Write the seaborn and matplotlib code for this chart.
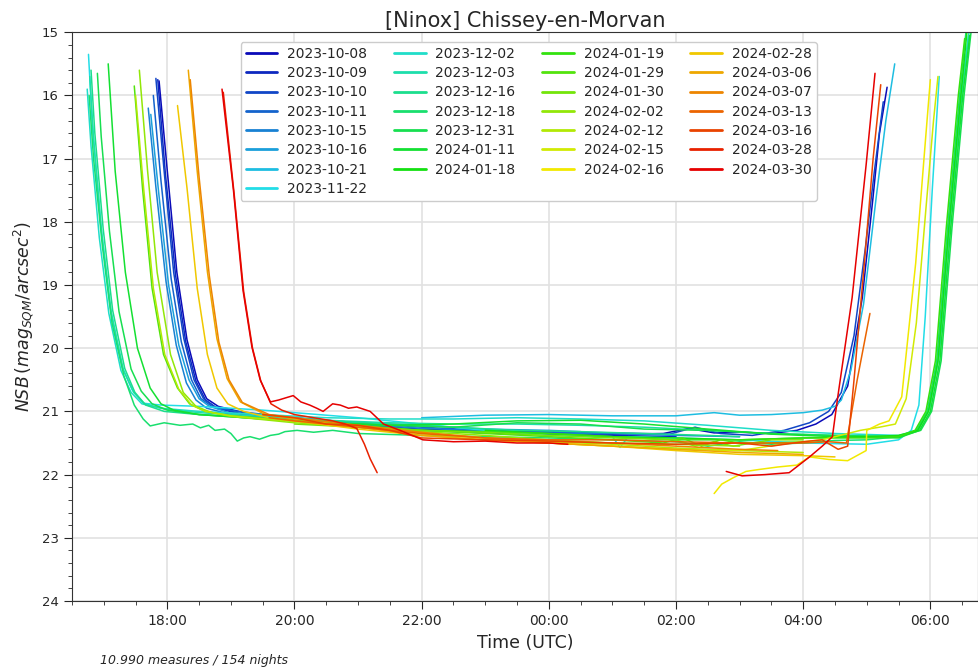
import numpy as np
import pandas as pd
import matplotlib
matplotlib.use('Agg')
import matplotlib.pyplot as plt
import seaborn as sns
from matplotlib.colors import LinearSegmentedColormap
from matplotlib.ticker import MultipleLocator, FuncFormatter
from matplotlib.lines import Line2D

nan = np.nan

nights = ['2023-10-08', '2023-10-09', '2023-10-10', '2023-10-11', '2023-10-15',
          '2023-10-16', '2023-10-21', '2023-11-22', '2023-12-02', '2023-12-03',
          '2023-12-16', '2023-12-18', '2023-12-31', '2024-01-11', '2024-01-18',
          '2024-01-19', '2024-01-29', '2024-01-30', '2024-02-02', '2024-02-12',
          '2024-02-15', '2024-02-16', '2024-02-28', '2024-03-06', '2024-03-07',
          '2024-03-13', '2024-03-16', '2024-03-28', '2024-03-30']

# time in hours UTC (after midnight = 24 + h), NSB in mag/arcsec2
t_1008 = [17.87, 18.0, 18.15, 18.31, 18.47, 18.62, 18.8, 19.2, 20.0, 21.0, 22.0, 23.0, 24.0, 25.0, 25.8, 26.2, 26.6, 27.0, 27.5, 27.9, 28.2, 28.45, 28.7, 28.93, 29.1, 29.2, 29.32]
m_1008 = [15.77, 17.2, 18.8, 19.87, 20.5, 20.8, 20.92, 21.02, 21.12, 21.2, 21.28, 21.32, 21.35, 21.36, 21.35, 21.27, 21.34, 21.33, 21.35, 21.3, 21.2, 21.05, 20.6, 19.2, 17.6, 16.6, 15.87]
t_1009 = [17.85, 17.97, 18.13, 18.29, 18.45, 18.6, 18.78, 19.2, 20.0, 21.0, 22.0, 23.0, 24.0, 25.0, 26.0]
m_1009 = [15.75, 17.25, 18.85, 19.9, 20.52, 20.82, 20.95, 21.05, 21.15, 21.22, 21.3, 21.34, 21.37, 21.38, 21.4]
t_1010 = [17.82, 17.95, 18.1, 18.26, 18.42, 18.57, 18.75, 19.2, 20.0, 21.0, 22.0, 23.0, 24.0, 25.0, 25.9, 26.3, 26.7, 27.2, 27.7, 28.1, 28.4, 28.6, 28.8, 28.98, 29.12, 29.26]
m_1010 = [15.73, 17.2, 18.8, 19.85, 20.5, 20.8, 20.93, 21.05, 21.14, 21.22, 21.3, 21.33, 21.32, 21.34, 21.36, 21.25, 21.35, 21.38, 21.3, 21.18, 21.0, 20.7, 19.8, 18.4, 17.2, 16.1]
t_1011 = [17.78, 17.9, 18.06, 18.22, 18.38, 18.53, 18.7, 19.1, 20.0, 21.0, 22.0, 23.0, 24.0, 24.8]
m_1011 = [16.0, 17.35, 18.9, 19.9, 20.5, 20.8, 20.92, 21.0, 21.1, 21.18, 21.25, 21.3, 21.33, 21.35]
t_1015 = [17.7, 17.82, 17.98, 18.14, 18.3, 18.45, 18.62, 19.0, 20.0, 21.0, 22.0, 23.0, 24.0, 25.0, 26.0, 27.0]
m_1015 = [16.2, 17.45, 18.95, 19.95, 20.55, 20.82, 20.95, 21.05, 21.15, 21.2, 21.27, 21.3, 21.35, 21.35, 21.38, 21.4]
t_1016 = [17.74, 17.86, 18.02, 18.18, 18.34, 18.5, 18.66, 19.0, 20.0, 21.0, 22.0, 23.0, 24.0, 24.5]
m_1016 = [16.3, 17.5, 19.0, 19.95, 20.5, 20.8, 20.92, 21.03, 21.1, 21.18, 21.22, 21.28, 21.3, 21.32]
t_1021 = [22.0, 23.0, 24.0, 25.0, 26.0, 26.6, 27.0, 27.5, 28.0, 28.3, 28.5, 28.6, 28.75, 28.95, 29.15, 29.3, 29.44]
m_1021 = [21.1, 21.06, 21.05, 21.07, 21.07, 21.02, 21.06, 21.05, 21.02, 20.98, 20.92, 20.82, 20.35, 19.3, 17.6, 16.4, 15.5]
t_1122 = [16.76, 16.82, 16.95, 17.1, 17.29, 17.45, 17.62, 17.9, 18.5, 19.0, 19.5, 20.0, 21.0, 22.0, 23.0, 24.0, 25.0, 25.12, 25.25, 26.0, 27.0, 28.0, 29.0, 29.5, 29.7, 29.82, 29.92, 30.03, 30.14]
m_1122 = [15.35, 16.44, 18.02, 19.35, 20.3, 20.66, 20.87, 20.9, 20.92, 20.95, 20.98, 21.02, 21.1, 21.2, 21.3, 21.38, 21.4, 21.57, 21.4, 21.42, 21.45, 21.5, 21.52, 21.45, 21.3, 20.9, 19.5, 17.5, 15.7]
t_1202 = [16.74, 16.8, 16.93, 17.08, 17.27, 17.43, 17.6, 17.9, 18.5, 19.5, 20.5, 21.5, 22.5, 23.5, 24.5, 25.5, 26.5, 27.5, 28.5, 29.5, 29.8, 29.97, 30.12, 30.29, 30.48, 30.6]
m_1202 = [15.9, 16.8, 18.25, 19.45, 20.35, 20.7, 20.88, 20.95, 21.0, 21.05, 21.1, 21.12, 21.12, 21.1, 21.12, 21.15, 21.22, 21.3, 21.35, 21.38, 21.3, 21.0, 20.2, 18.1, 16.0, 15.05]
t_1203 = [16.78, 16.84, 16.97, 17.12, 17.31, 17.47, 17.64, 17.95, 18.5, 19.5, 20.5, 21.5, 22.5, 23.5, 24.5, 25.5, 26.5, 27.5, 28.5, 29.5, 29.82, 29.99, 30.14, 30.31, 30.5, 30.62]
m_1203 = [15.7, 16.7, 18.2, 19.45, 20.35, 20.7, 20.88, 20.96, 21.02, 21.08, 21.14, 21.18, 21.2, 21.2, 21.22, 21.25, 21.3, 21.35, 21.38, 21.4, 21.28, 20.95, 20.1, 18.0, 15.95, 14.9]
t_1216 = [16.8, 16.86, 16.99, 17.14, 17.33, 17.49, 17.66, 17.95, 18.5, 19.5, 20.5, 21.5, 22.5, 23.5, 24.5, 25.5, 26.5, 27.0]
m_1216 = [15.6, 16.6, 18.1, 19.4, 20.32, 20.7, 20.9, 21.0, 21.05, 21.1, 21.15, 21.2, 21.25, 21.3, 21.32, 21.35, 21.38, 21.4]
t_1218 = [16.77, 16.84, 16.98, 17.13, 17.32, 17.48, 17.62, 17.73, 17.95, 18.2, 18.4, 18.52, 18.65, 18.75, 18.9, 19.0, 19.1, 19.2, 19.3, 19.45, 19.62, 19.75, 19.85, 20.04, 20.3, 20.6, 21.0, 22.0, 23.0, 24.0, 25.0, 26.0, 26.5, 27.0, 27.5, 28.0, 28.5, 29.0, 29.5, 29.78, 29.95, 30.1, 30.27, 30.46, 30.56]
m_1218 = [16.0, 17.0, 18.4, 19.6, 20.45, 20.9, 21.12, 21.23, 21.18, 21.22, 21.2, 21.26, 21.22, 21.3, 21.28, 21.35, 21.47, 21.42, 21.4, 21.44, 21.38, 21.36, 21.32, 21.3, 21.33, 21.3, 21.35, 21.38, 21.4, 21.42, 21.45, 21.48, 21.55, 21.48, 21.52, 21.5, 21.46, 21.45, 21.4, 21.3, 21.0, 20.2, 18.1, 16.0, 15.0]
t_1231 = [16.9, 16.96, 17.09, 17.24, 17.43, 17.59, 17.76, 18.0, 18.5, 19.5, 20.5, 21.5, 22.5, 23.5, 24.5, 25.5, 26.5, 27.5, 28.5, 29.5, 29.85, 30.02, 30.17, 30.34, 30.53, 30.64]
m_1231 = [15.65, 16.65, 18.15, 19.42, 20.33, 20.68, 20.88, 20.98, 21.05, 21.12, 21.18, 21.22, 21.25, 21.18, 21.2, 21.28, 21.3, 21.35, 21.38, 21.4, 21.3, 21.0, 20.2, 18.1, 16.0, 15.0]
t_0111 = [17.07, 17.18, 17.34, 17.53, 17.73, 17.9, 18.1, 18.5, 19.5, 20.5, 21.5, 22.5, 23.5, 24.5, 25.5, 26.5, 27.5, 28.5, 29.5, 29.83, 30.0, 30.15, 30.32, 30.51, 30.62]
m_0111 = [15.5, 17.2, 18.8, 20.0, 20.63, 20.88, 20.98, 21.05, 21.12, 21.18, 21.22, 21.2, 21.15, 21.14, 21.2, 21.28, 21.36, 21.4, 21.42, 21.3, 21.0, 20.2, 18.1, 16.0, 15.05]
t_0118 = [23.0, 24.0, 25.0, 26.0, 27.0, 28.0, 29.0, 29.5, 29.8, 29.97, 30.12, 30.29, 30.48, 30.58]
m_0118 = [21.3, 21.35, 21.4, 21.42, 21.45, 21.42, 21.4, 21.38, 21.3, 21.0, 20.2, 18.1, 16.0, 14.95]
t_0119 = [21.0, 22.0, 23.0, 24.0, 25.0, 26.0, 27.0, 28.0, 29.0, 29.5, 29.76, 29.93, 30.08, 30.25, 30.44, 30.54]
m_0119 = [21.25, 21.3, 21.32, 21.35, 21.4, 21.45, 21.45, 21.42, 21.42, 21.4, 21.3, 21.0, 20.2, 18.1, 16.0, 15.1]
t_0129 = [17.48, 17.61, 17.76, 17.94, 18.16, 18.35, 18.6, 19.0, 20.0, 21.0, 22.0, 23.0, 24.0, 25.0, 25.8, 26.1, 26.4, 26.7, 27.0, 27.5, 28.0]
m_0129 = [15.85, 17.47, 19.05, 20.1, 20.63, 20.88, 21.0, 21.07, 21.15, 21.22, 21.3, 21.35, 21.4, 21.45, 21.5, 21.42, 21.55, 21.45, 21.5, 21.5, 21.48]
t_0130 = [20.0, 21.0, 22.0, 23.0, 24.0, 25.0, 26.0, 26.3, 26.6, 26.9, 27.2, 27.5, 28.0]
m_0130 = [21.2, 21.25, 21.3, 21.33, 21.38, 21.42, 21.45, 21.55, 21.48, 21.55, 21.5, 21.45, 21.45]
t_0202 = [17.56, 17.69, 17.84, 18.05, 18.25, 18.45, 18.7, 19.0, 20.0, 21.0, 22.0, 23.0, 24.0, 25.0, 26.0, 27.0]
m_0202 = [15.6, 17.2, 18.8, 20.1, 20.7, 20.92, 21.02, 21.08, 21.18, 21.25, 21.32, 21.38, 21.45, 21.5, 21.52, 21.55]
t_0212 = [17.5, 17.63, 17.78, 17.96, 18.18, 18.38, 18.6, 19.0, 20.0, 21.0, 22.0, 23.0, 24.0, 25.0, 26.0, 27.0, 28.0]
m_0212 = [16.0, 17.5, 19.05, 20.1, 20.65, 20.9, 21.0, 21.07, 21.16, 21.25, 21.35, 21.42, 21.48, 21.52, 21.58, 21.62, 21.65]
t_0215 = [22.0, 23.0, 24.0, 25.0, 26.0, 27.0, 27.8, 28.3, 28.9, 29.2, 29.45, 29.62, 29.78, 29.93, 30.05, 30.12]
m_0215 = [21.35, 21.42, 21.5, 21.55, 21.6, 21.62, 21.5, 21.45, 21.3, 21.25, 21.2, 20.8, 19.6, 17.8, 16.4, 15.7]
t_0216 = [26.6, 26.72, 26.9, 27.1, 27.3, 27.6, 27.9, 28.1, 28.4, 28.7, 28.99, 29.0, 29.2, 29.35, 29.55, 29.77, 29.9, 30.0]
m_0216 = [22.3, 22.15, 22.05, 21.95, 21.92, 21.88, 21.85, 21.72, 21.76, 21.78, 21.62, 21.3, 21.2, 21.15, 20.77, 18.65, 17.0, 15.75]
t_0228 = [18.16, 18.31, 18.47, 18.63, 18.78, 18.95, 19.2, 19.6, 20.0, 21.0, 22.0, 23.0, 24.0, 25.0, 26.0, 27.0, 28.0, 28.5]
m_0228 = [16.16, 17.47, 19.05, 20.1, 20.63, 20.88, 21.0, 21.1, 21.15, 21.28, 21.38, 21.45, 21.5, 21.55, 21.62, 21.68, 21.7, 21.72]
t_0306 = [18.33, 18.47, 18.63, 18.78, 18.94, 19.15, 19.54, 20.0, 21.0, 22.0, 23.0, 24.0, 25.0, 26.0, 27.0, 28.0]
m_0306 = [15.6, 17.2, 18.79, 19.85, 20.48, 20.85, 21.05, 21.12, 21.25, 21.38, 21.45, 21.5, 21.55, 21.6, 21.65, 21.68]
t_0307 = [18.36, 18.5, 18.66, 18.81, 18.97, 19.18, 19.6, 20.0, 21.0, 22.0, 23.0, 24.0, 25.0, 26.0, 27.0, 27.6]
m_0307 = [15.75, 17.3, 18.85, 19.9, 20.5, 20.86, 21.05, 21.1, 21.22, 21.33, 21.42, 21.47, 21.5, 21.55, 21.6, 21.62]
t_0313 = [19.6, 20.0, 21.0, 22.0, 23.0, 24.0, 25.0, 26.0, 27.0, 28.0, 28.4, 28.68, 28.85, 29.05]
m_0313 = [21.1, 21.15, 21.25, 21.35, 21.42, 21.45, 21.45, 21.48, 21.5, 21.5, 21.48, 21.5, 20.5, 19.45]
t_0316 = [19.5, 20.0, 20.5, 21.0, 21.5, 22.0, 23.0, 24.0, 25.0, 26.0, 27.0, 27.5, 28.0, 28.3, 28.55, 28.7, 28.8, 28.95, 29.1, 29.22]
m_0316 = [21.05, 21.1, 21.2, 21.22, 21.3, 21.42, 21.45, 21.47, 21.5, 21.52, 21.5, 21.55, 21.48, 21.45, 21.6, 21.55, 20.5, 18.8, 17.0, 15.83]
t_0328 = [18.88, 19.05, 19.2, 19.34, 19.47, 19.63, 19.8, 20.0, 20.3, 20.6, 20.8, 20.98, 21.1, 21.19, 21.3]
m_0328 = [15.95, 17.55, 19.1, 20.0, 20.52, 20.88, 20.98, 21.05, 21.1, 21.15, 21.2, 21.27, 21.52, 21.75, 21.97]
t_0330 = [18.86, 19.04, 19.19, 19.33, 19.46, 19.62, 19.75, 19.88, 19.98, 20.1, 20.24, 20.35, 20.45, 20.6, 20.72, 20.85, 20.98, 21.19, 21.4, 21.66, 22.02, 22.5, 23.0, 23.5, 24.0, 24.3, nan,
          26.79, 27.04, 27.4, 27.78, 28.1, 28.3, 28.46, 28.54, 28.77, 28.99, 29.13]
m_0330 = [15.9, 17.5, 19.08, 19.98, 20.5, 20.85, 20.82, 20.78, 20.75, 20.85, 20.9, 20.95, 21.0, 20.88, 20.9, 20.95, 20.93, 21.0, 21.2, 21.3, 21.45, 21.48, 21.47, 21.5, 21.5, 21.52, nan,
          21.95, 22.02, 22.0, 21.97, 21.72, 21.55, 21.4, 20.8, 19.2, 17.1, 15.65]

series = [(t_1008, m_1008), (t_1009, m_1009), (t_1010, m_1010), (t_1011, m_1011),
          (t_1015, m_1015), (t_1016, m_1016), (t_1021, m_1021), (t_1122, m_1122),
          (t_1202, m_1202), (t_1203, m_1203), (t_1216, m_1216), (t_1218, m_1218),
          (t_1231, m_1231), (t_0111, m_0111), (t_0118, m_0118), (t_0119, m_0119),
          (t_0129, m_0129), (t_0130, m_0130), (t_0202, m_0202), (t_0212, m_0212),
          (t_0215, m_0215), (t_0216, m_0216), (t_0228, m_0228), (t_0306, m_0306),
          (t_0307, m_0307), (t_0313, m_0313), (t_0316, m_0316), (t_0328, m_0328),
          (t_0330, m_0330)]

rows = []
for night, (t, m) in zip(nights, series):
    seg = 0
    for ti, mi in zip(t, m):
        if np.isnan(ti):
            seg += 1
            continue
        rows.append((night, f'{night}#{seg}', ti, mi))
df = pd.DataFrame(rows, columns=['night', 'seg', 'time', 'nsb'])

cmap = LinearSegmentedColormap.from_list('nights', ['#0a0ab8', '#22dde8', '#12e012', '#f2ec00', '#e60000'])
palette = {n: cmap(i / (len(nights) - 1)) for i, n in enumerate(nights)}

sns.set_style('ticks')
plt.rcParams['font.family'] = ['DejaVu Sans']

fig, ax = plt.subplots(figsize=(9.79, 6.72), dpi=100)
fig.subplots_adjust(left=0.0735, right=0.999, top=0.952, bottom=0.1057)

sns.lineplot(data=df, x='time', y='nsb', hue='night', hue_order=nights, units='seg',
             estimator=None, sort=False, palette=palette, lw=1.1, legend=False, ax=ax)

ax.set_xlim(16.5, 30.75)
ax.set_ylim(24, 15)
ax.xaxis.set_major_locator(MultipleLocator(2))
ax.xaxis.set_minor_locator(MultipleLocator(0.5))
ax.xaxis.set_major_formatter(FuncFormatter(lambda v, p: f'{int(round(v)) % 24:02d}:00'))
ax.yaxis.set_major_locator(MultipleLocator(1))
ax.yaxis.set_minor_locator(MultipleLocator(0.2))
ax.tick_params(which='major', direction='out', length=6, labelsize=10)
ax.tick_params(which='minor', direction='out', length=3)
ax.tick_params(axis='y', labelsize=9.5)
ax.grid(True, which='major', color='#e2e2e2', lw=1.2)
for s in ax.spines.values():
    s.set_color('#333333')

ax.set_title('[Ninox] Chissey-en-Morvan', fontsize=15, pad=4)
ax.set_xlabel('Time (UTC)', fontsize=12.5)
ax.set_ylabel(r'$NSB\,(mag_{SQM}/arcsec^2)$', fontsize=12.5)

handles = [Line2D([], [], color=palette[n], lw=2) for n in nights]
ax.legend(handles, nights, ncol=4, loc='upper center', bbox_to_anchor=(0.504, 0.995),
          fontsize=10, handlelength=2.3, handletextpad=0.7, columnspacing=1.9,
          labelspacing=0.38, borderpad=0.35, frameon=True, framealpha=1,
          edgecolor='#cccccc', fancybox=True)

fig.text(0.102, 0.012, '10.990 measures / 154 nights', style='italic', fontsize=9)

fig.savefig('out.png', dpi=100)
